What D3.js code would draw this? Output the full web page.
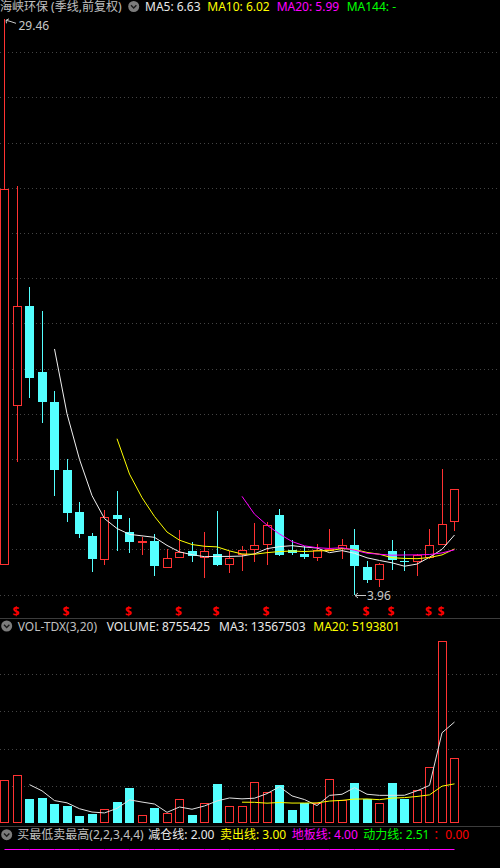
<!DOCTYPE html>
<meta charset="utf-8">
<style>

    body {
        margin: 0;
        background: #000;
    }

    svg {
        display: block;
        background: #000;
    }

    text {
        font-family: "Noto Sans", "Noto Sans CJK SC", sans-serif;
        font-size: 12px;
    }

    .grid line {
        stroke: #444;
        stroke-dasharray: 1, 3;
        shape-rendering: crispEdges;
    }

    .sep {
        stroke: #3c3c3c;
        shape-rendering: crispEdges;
    }

    .candle line, .candle rect, .vol rect {
        shape-rendering: crispEdges;
    }

</style>
<svg id="svg" width="500" height="868"></svg>
<script src="https://cdn.jsdelivr.net/npm/d3@7/dist/d3.min.js"></script>
<script>

    // quarterly candles, forward adjusted
    var quarters = ["2017Q1", "2017Q2", "2017Q3", "2017Q4", "2018Q1", "2018Q2", "2018Q3", "2018Q4",
        "2019Q1", "2019Q2", "2019Q3", "2019Q4", "2020Q1", "2020Q2", "2020Q3", "2020Q4",
        "2021Q1", "2021Q2", "2021Q3", "2021Q4", "2022Q1", "2022Q2", "2022Q3", "2022Q4",
        "2023Q1", "2023Q2", "2023Q3", "2023Q4", "2024Q1", "2024Q2", "2024Q3", "2024Q4",
        "2025Q1", "2025Q2", "2025Q3", "2025Q4", "2026Q1"];

    var open = [5.29, 12.34, 16.78, 13.86, 12.53, 9.50, 7.64, 6.58, 5.54, 7.51, 6.75, 6.30, 6.35,
        5.17, 5.63, 5.91, 5.63, 5.81, 5.32, 5.73, 5.99, 6.21, 7.51, 5.96, 5.81, 5.63, 5.92,
        6.03, 6.21, 5.22, 4.66, 5.92, 5.50, 5.44, 5.63, 6.21, 7.19];
    var high = [29.46, 22.10, 17.62, 16.55, 13.02, 9.99, 8.10, 6.72, 7.73, 8.59, 7.37, 6.55, 6.66,
        6.00, 6.84, 6.32, 6.77, 7.69, 5.92, 6.15, 7.17, 7.20, 7.80, 6.40, 6.13, 6.25, 6.92,
        6.47, 6.89, 5.50, 5.40, 6.40, 5.91, 5.81, 6.89, 9.55, 8.69];
    var low = [5.29, 9.87, 12.68, 11.57, 8.36, 7.21, 6.50, 5.00, 5.29, 5.92, 5.84, 5.73, 4.82,
        5.17, 5.63, 5.44, 4.74, 5.25, 4.97, 5.04, 5.44, 5.32, 5.70, 5.76, 5.56, 5.48, 5.92,
        5.56, 3.96, 4.51, 4.33, 5.10, 5.02, 4.82, 5.56, 6.18, 6.81];
    var close = [21.95, 16.78, 13.60, 12.51, 9.50, 7.61, 6.68, 5.59, 7.41, 7.32, 6.31, 6.35, 5.26,
        5.63, 5.88, 5.69, 5.91, 5.32, 5.63, 5.96, 6.18, 7.06, 5.76, 5.85, 5.66, 5.96, 6.03,
        6.21, 5.26, 4.66, 5.37, 5.51, 5.46, 5.73, 6.18, 7.11, 8.69];

    var volume = [5780000, 6450000, 3150000, 3280000, 2510000, 2240000, 900000, 1170000, 1880000,
        2740000, 4620000, 990000, 1940000, 1260000, 3150000, 1030000, 2600000, 5160000, 2240000,
        2240000, 5430000, 4090000, 5030000, 1710000, 2610000, 2610000, 5830000, 3050000, 5300000,
        3150000, 2610000, 5300000, 3190000, 4400000, 7480000, 24470000, 8755425];

    // quarters carrying the red buy signal
    var signalQuarters = ["2017Q2", "2018Q2", "2019Q3", "2020Q3", "2021Q2", "2022Q2", "2023Q3",
        "2024Q2", "2024Q4", "2025Q3", "2025Q4"];

    var priceTicks = [4, 6, 8, 10, 12, 14, 16, 18, 20, 22, 24, 26, 28];
    var volumeTicks = [5000000, 10000000, 15000000, 20000000];

    var priceTitle = "海峡环保 (季线,前复权)";
    var priceLegend = ["MA5: 6.63", "MA10: 6.02", "MA20: 5.99", "MA144: -"];
    var volTitle = "VOL-TDX(3,20)";
    var volLegend = ["VOLUME: 8755425", "MA3: 13567503", "MA20: 5193801"];
    var indTitle = "买最低卖最高(2,2,3,4,4)";
    var indLegend = ["减仓线: 2.00", "卖出线: 3.00", "地板线: 4.00", "动力线: 2.51", "：0.00"];
    var indLevels = [2.00, 3.00, 4.00];
    var highLabel = "29.46";
    var lowLabel = "3.96";

    var RED = "#ff3232", CYAN = "#54ffff";

    var svg = d3.select("svg");

    var x = d3.scalePoint().domain(quarters).range([4.5, 454.5]);
    var y = d3.scaleLinear().domain([4, 28]).range([594.5, 52.3]);
    var yv = d3.scaleLinear().domain([0, 20000000]).range([822.7, 674.3]);
    var yi = d3.scaleLinear().domain([0, 4]).range([960, 848.5]);

    var px = function (q) { return Math.floor(x(q)); };

    function movingAvg(values, n) {
        return values.map(function (v, i) {
            return i < n - 1 ? null : d3.mean(values.slice(i - n + 1, i + 1));
        });
    }

    var rows = quarters.map(function (q, i) {
        return {q: q, o: open[i], h: high[i], l: low[i], c: close[i], v: volume[i], up: close[i] >= open[i]};
    });

    // grid lines
    svg.append("g").attr("class", "grid")
        .selectAll("line").data(priceTicks).enter().append("line")
        .attr("x1", 0).attr("x2", 500)
        .attr("y1", function (d) { return Math.round(y(d)) + 0.5; })
        .attr("y2", function (d) { return Math.round(y(d)) + 0.5; });

    svg.append("g").attr("class", "grid")
        .selectAll("line").data(volumeTicks).enter().append("line")
        .attr("x1", 0).attr("x2", 500)
        .attr("y1", function (d) { return Math.round(yv(d)) + 0.5; })
        .attr("y2", function (d) { return Math.round(yv(d)) + 0.5; });

    // panel separators
    [618.5, 826.5].forEach(function (sy) {
        svg.append("line").attr("class", "sep")
            .attr("x1", 0).attr("x2", 500).attr("y1", sy).attr("y2", sy);
    });

    // candles
    var candle = svg.append("g").attr("class", "candle")
        .selectAll("g").data(rows).enter().append("g");

    candle.each(function (d) {
        var g = d3.select(this);
        var cx = px(d.q);
        var col = d.up ? RED : CYAN;
        var top = Math.round(y(Math.max(d.o, d.c)));
        var bot = Math.round(y(Math.min(d.o, d.c)));
        var hi = Math.round(y(d.h)), lo = Math.round(y(d.l));
        if (bot - top < 1) bot = top + 1;

        if (hi < top) g.append("line").attr("x1", cx + 0.5).attr("x2", cx + 0.5)
            .attr("y1", hi).attr("y2", top).attr("stroke", col);
        if (lo > bot) g.append("line").attr("x1", cx + 0.5).attr("x2", cx + 0.5)
            .attr("y1", bot).attr("y2", lo).attr("stroke", col);

        if (d.up) {
            g.append("rect")
                .attr("x", cx - 3.5).attr("y", top + 0.5)
                .attr("width", 8).attr("height", bot - top - 1 > 0 ? bot - top - 1 : 0.01)
                .attr("fill", "#000").attr("stroke", RED);
        } else {
            g.append("rect")
                .attr("x", cx - 4).attr("y", top)
                .attr("width", 9).attr("height", bot - top)
                .attr("fill", CYAN);
        }
    });

    // price moving averages
    var closeMA = [[5, "#f0f0f0"], [10, "#ffff00"], [20, "#ff00ff"]];
    closeMA.forEach(function (m) {
        var ma = movingAvg(close, m[0]);
        var line = d3.line()
            .defined(function (d, i) { return ma[i] != null; })
            .x(function (d) { return x(d); })
            .y(function (d, i) { return y(ma[i]); });
        svg.append("path").datum(quarters)
            .attr("d", line).attr("fill", "none")
            .attr("stroke", m[1]).attr("stroke-width", 1);
    });

    // high / low markers
    var hiQ = quarters[high.indexOf(d3.max(high))];
    var loQ = quarters[low.indexOf(d3.min(low))];
    var hx = px(hiQ) + 1, hy = y(d3.max(high));
    svg.append("path")
        .attr("d", "M" + (hx + 11) + "," + (hy + 4) + "L" + (hx + 5) + "," + (hy + 2) + "L" + (hx + 1) + "," + (hy + 1) +
            "M" + (hx + 1) + "," + (hy + 1) + "l3,-1.5M" + (hx + 1) + "," + (hy + 1) + "l0.5,3")
        .attr("fill", "none").attr("stroke", "#c8c8c8");
    svg.append("text").attr("x", hx + 13.5).attr("y", hy + 10.5)
        .attr("fill", "#c8c8c8").text(highLabel);

    var lx = px(loQ) + 1, ly = Math.round(y(d3.min(low))) + 0.5;
    svg.append("path")
        .attr("d", "M" + (lx + 11) + "," + ly + "H" + lx + "M" + lx + "," + ly + "l3,-2.5M" + lx + "," + ly + "l3,2.5")
        .attr("fill", "none").attr("stroke", "#c8c8c8");
    svg.append("text").attr("x", lx + 12).attr("y", ly + 4.5)
        .attr("fill", "#c8c8c8").text(lowLabel);

    // buy signals
    svg.append("g").selectAll("text").data(signalQuarters).enter().append("text")
        .attr("x", function (d) { return x(d) - 1; })
        .attr("y", 615.5)
        .attr("text-anchor", "middle")
        .attr("fill", "#ff0000")
        .attr("font-weight", "bold")
        .style("font-size", "12px")
        .text("$");

    // volume bars
    svg.append("g").attr("class", "vol")
        .selectAll("rect").data(rows).enter().append("rect")
        .attr("x", function (d) { return d.up ? px(d.q) - 3.5 : px(d.q) - 4; })
        .attr("y", function (d) { return Math.round(yv(d.v)) + (d.up ? 0.5 : 0); })
        .attr("width", function (d) { return d.up ? 8 : 9; })
        .attr("height", function (d) { return 823 - Math.round(yv(d.v)) - (d.up ? 1 : 0); })
        .attr("fill", function (d) { return d.up ? "#000" : CYAN; })
        .attr("stroke", function (d) { return d.up ? RED : "none"; });

    var volMA = [[3, "#e0e0e0"], [20, "#ffff00"]];
    volMA.forEach(function (m) {
        var ma = movingAvg(volume, m[0]);
        var line = d3.line()
            .defined(function (d, i) { return ma[i] != null; })
            .x(function (d) { return x(d); })
            .y(function (d, i) { return yv(ma[i]); });
        svg.append("path").datum(quarters)
            .attr("d", line).attr("fill", "none")
            .attr("stroke", m[1]).attr("stroke-width", 1);
    });

    // indicator panel levels (only the floor line falls inside the window)
    var levelColors = ["#ffffff", "#ffff00", "#ff00ff"];
    indLevels.forEach(function (lv, k) {
        var line = d3.line().x(function (d) { return x(d); }).y(function () { return Math.round(yi(lv)) + 0.5; });
        svg.append("path").datum(quarters)
            .attr("d", line).attr("fill", "none")
            .attr("stroke", levelColors[k]).attr("stroke-width", 1);
    });

    // headers
    function icon(cx, cy) {
        svg.append("circle").attr("cx", cx).attr("cy", cy).attr("r", 5.5).attr("fill", "#7c7c7c");
        svg.append("path")
            .attr("d", "M" + (cx - 2.7) + "," + (cy - 1.2) + "L" + cx + "," + (cy + 1.6) + "L" + (cx + 2.7) + "," + (cy - 1.2))
            .attr("fill", "none").attr("stroke", "#1a1a1a").attr("stroke-width", 1.4);
    }

    function header(baseline, parts) {
        parts.forEach(function (p) {
            svg.append("text").attr("x", p[1]).attr("y", baseline)
                .attr("fill", p[2]).text(p[0]);
        });
    }

    header(11, [
        [priceTitle, 0, "#c0c0c0"],
        [priceLegend[0], 145, "#e8e8e8"],
        [priceLegend[1], 207.3, "#ffff00"],
        [priceLegend[2], 276.7, "#ff00ff"],
        [priceLegend[3], 346.7, "#00ff00"]
    ]);
    icon(133.7, 6.5);

    header(630.5, [
        [volTitle, 17.7, "#c0c0c0"],
        [volLegend[0], 106.7, "#e8e8e8"],
        [volLegend[1], 219, "#e8e8e8"],
        [volLegend[2], 313.3, "#ffff00"]
    ]);
    icon(6.7, 626);

    header(838.7, [
        [indTitle, 17.3, "#c0c0c0"],
        [indLegend[0], 148.3, "#e8e8e8"],
        [indLegend[1], 220, "#ffff00"],
        [indLegend[2], 291.7, "#ff00ff"],
        [indLegend[3], 363.3, "#00ff00"],
        [indLegend[4], 433.3, "#ff0000"]
    ]);
    icon(6.7, 834.7);

</script>
